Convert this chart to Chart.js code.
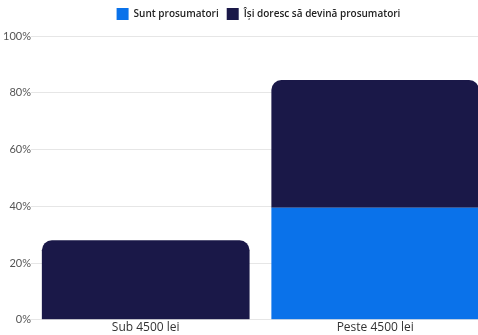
<!DOCTYPE html>
<html>
<head>
<meta charset="utf-8">
<script src="https://cdn.jsdelivr.net/npm/chart.js@4"></script>
<style>
  html, body { margin: 0; padding: 0; background: #fff; overflow: hidden; }
  body { width: 478px; height: 335px; }
  #wrap { width: 520px; height: 335px; }
</style>
</head>
<body>
<div id="wrap"><canvas id="prosumChart"></canvas></div>
<script>
const categories = ['Sub 4500 lei', 'Peste 4500 lei'];
const suntProsumatori = [0, 39.5];
const doresc = [28, 45];
const yTicks = [0, 20, 40, 60, 80, 100];

// extra space under the legend, and nudge it a bit to the left
const legendMargin = {
    id: 'legendMargin',
    beforeInit(chart) {
        const fit = chart.legend.fit;
        chart.legend.fit = function () {
            fit.bind(chart.legend)();
            this.height += 6;
        };
    },
    afterLayout(chart) {
        chart.legend.left -= 2;
        chart.legend.right -= 2;
    }
};

const ctx = document.getElementById('prosumChart');
new Chart(ctx, {
    type: 'bar',
    data: {
        labels: categories,
        datasets: [{
            label: 'Sunt prosumatori',
            data: suntProsumatori,
            backgroundColor: '#0a72ea',
            borderRadius: 0,
            barPercentage: 0.905,
            categoryPercentage: 1
        }, {
            label: 'Își doresc să devină prosumatori',
            data: doresc,
            backgroundColor: '#1a1848',
            borderRadius: { topLeft: 10, topRight: 10 },
            borderSkipped: 'start',
            barPercentage: 0.905,
            categoryPercentage: 1
        }]
    },
    options: {
        responsive: true,
        maintainAspectRatio: false,
        animation: false,
        layout: { padding: { top: 0, right: 30, left: 3, bottom: 0 } },
        plugins: {
            legend: {
                fullSize: false,
                labels: {
                    boxWidth: 12,
                    boxHeight: 12,
                    padding: 8,
                    color: '#222',
                    font: { family: 'Open Sans', size: 10, weight: '600' }
                }
            },
            tooltip: { enabled: false }
        },
        scales: {
            x: {
                stacked: true,
                grid: { display: false, drawTicks: false },
                border: { color: '#e6e6e6' },
                ticks: { color: '#333', padding: 1, font: { family: 'Open Sans', size: 12, weight: '500', lineHeight: 1.1 } }
            },
            y: {
                stacked: true,
                min: 0,
                max: 100,
                afterBuildTicks: axis => { axis.ticks = yTicks.map(v => ({ value: v })); },
                grid: { color: '#e6e6e6', drawTicks: false },
                border: { display: false },
                ticks: {
                    color: '#555',
                    padding: 0,
                    font: { family: 'Lato', size: 11 },
                    callback: v => v + '%'
                }
            }
        }
    },
    plugins: [legendMargin]
});
</script>
</body>
</html>
